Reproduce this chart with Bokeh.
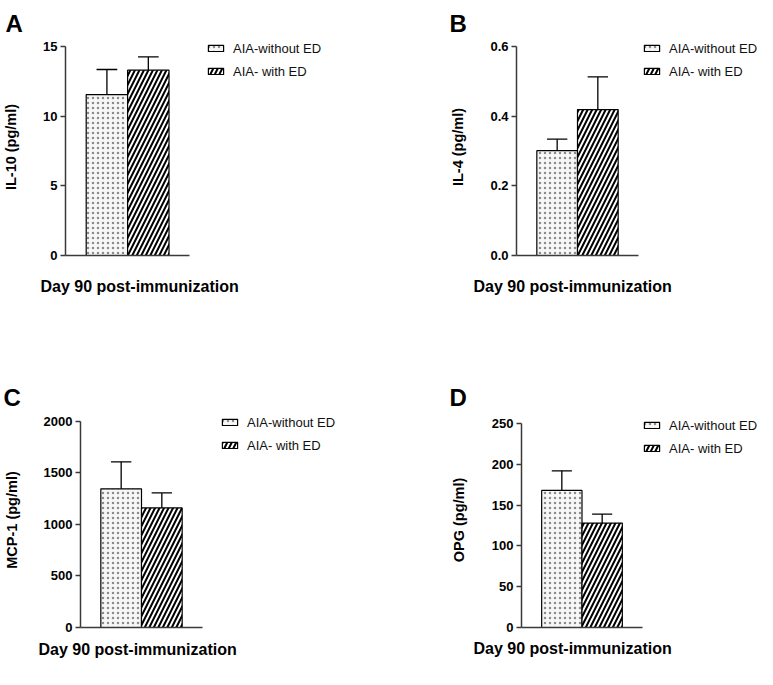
from bokeh.plotting import figure
from bokeh.models import (Range1d, FixedTicker, Legend, LegendItem, Title,
                          ColumnDataSource, NumeralTickFormatter)
from bokeh.layouts import row, column
from bokeh.embed import file_html
from bokeh.resources import INLINE

# ---------------- data ----------------
groups = ["AIA-without ED", "AIA- with ED"]
x_title = "Day 90 post-immunization"

letters = ["A", "B", "C", "D"]
y_titles = ["IL-10 (pg/ml)", "IL-4 (pg/ml)", "MCP-1 (pg/ml)", "OPG (pg/ml)"]

means_A = [11.55, 13.30]
sem_A = [1.80, 0.95]
means_B = [0.301, 0.419]
sem_B = [0.033, 0.094]
means_C = [1346, 1160]
sem_C = [262, 146]
means_D = [168, 128]
sem_D = [24, 11]

ticks_A = [0, 5, 10, 15]
ticks_B = [0.0, 0.2, 0.4, 0.6]
ticks_C = [0, 500, 1000, 1500, 2000]
ticks_D = [0, 50, 100, 150, 200, 250]

FONT = "Liberation Sans"


def make_panel(letter, ytitle, means, sems, ticks, fmt, g):
    W, H = g["W"], g["H"]
    fl, ft, fw, fh, ft_ext = g["fl"], g["ft"], g["fw"], g["fh"], g["ft_ext"]
    # the data area is [0,3] x [ticks[0], ticks[-1]]; the frame is extended
    # to the right and upward so the legend sits inside it
    x_end = 3 * (W - fl) / fw
    span = ticks[-1] - ticks[0]
    y_end = ticks[-1] + span * (ft - ft_ext) / fh
    bottom = H - ft - fh
    p = figure(width=W, height=H, output_backend="svg", toolbar_location=None,
               x_range=Range1d(0, x_end), y_range=Range1d(ticks[0], y_end),
               min_border_left=fl, min_border_top=ft_ext,
               min_border_right=0, min_border_bottom=bottom)
    p.outline_line_color = None
    p.xgrid.visible = False
    p.ygrid.visible = False
    p.background_fill_color = "white"
    p.border_fill_color = "white"

    ax = p.yaxis[0]
    bx = p.xaxis[0]

    # y axis
    ax.bounds = (ticks[0], ticks[-1])
    ax.ticker = FixedTicker(ticks=ticks)
    ax.formatter = NumeralTickFormatter(format=fmt)
    ax.axis_line_color = "#3a3a3a"
    ax.axis_line_width = 1.5
    ax.major_tick_line_color = "#3a3a3a"
    ax.major_tick_line_width = 1.5
    ax.major_tick_in = 0
    ax.major_tick_out = 5
    ax.minor_tick_line_color = None
    ax.major_label_standoff = 3
    ax.major_label_text_font = FONT
    ax.major_label_text_font_style = "bold"
    ax.major_label_text_font_size = "13px"
    ax.major_label_text_color = "black"
    ax.axis_label = ytitle
    ax.axis_label_standoff = g["yt"]
    ax.axis_label_text_font = FONT
    ax.axis_label_text_font_style = "bold"
    ax.axis_label_text_font_size = "14.5px"
    ax.axis_label_text_color = "black"

    # x axis (line only, limited to the bar area)
    bx.bounds = (0, 3)
    bx.ticker = FixedTicker(ticks=[])
    bx.axis_line_color = "#3a3a3a"
    bx.axis_line_width = 1.5
    bx.major_tick_line_color = None
    bx.major_tick_out = 0
    bx.major_tick_in = 0
    bx.minor_tick_line_color = None
    bx.minor_tick_out = 0
    bx.major_label_standoff = 0
    bx.major_label_text_font_size = "0px"

    # x title: a left-aligned title below the axis
    p.add_layout(Title(text=x_title, align="left", offset=g["xt"],
                       standoff=g["xt_so"], text_font=FONT,
                       text_font_style="bold", text_font_size="16px",
                       text_color="black"), "below")

    # panel letter
    p.title.text = letter
    p.title.align = "left"
    p.title.offset = g["let"]
    p.title.standoff = 4
    p.title.text_font = FONT
    p.title.text_font_style = "bold"
    p.title.text_font_size = "24px"
    p.title.text_color = "black"

    # bars
    xs = [1, 2]
    src1 = ColumnDataSource(dict(x=[xs[0]], top=[means[0]]))
    src2 = ColumnDataSource(dict(x=[xs[1]], top=[means[1]]))
    r1 = p.vbar(x="x", top="top", bottom=0, width=1.0, source=src1,
                fill_color="#f7f7f7", line_color="black", line_width=1.2,
                hatch_pattern="dot", hatch_color="#808080", hatch_scale=5,
                hatch_weight=1, hatch_alpha=0.9)
    r2 = p.vbar(x="x", top="top", bottom=0, width=1.0, source=src2,
                fill_color="white", line_color="black", line_width=1.2,
                hatch_pattern="right_diagonal_line", hatch_color="black",
                hatch_scale=9, hatch_weight=2)

    # error bars (upper only)
    ups = [m + s for m, s in zip(means, sems)]
    p.segment(x0=xs, y0=means, x1=xs, y1=ups, line_color="black", line_width=1.3)
    p.segment(x0=[x - 0.25 for x in xs], y0=ups, x1=[x + 0.25 for x in xs], y1=ups,
              line_color="black", line_width=1.3)

    # legend (inside the extended frame, right of the bars)
    leg = Legend(items=[LegendItem(label=groups[0], renderers=[r1]),
                        LegendItem(label=groups[1], renderers=[r2])],
                 location=g["leg"], padding=0, margin=0, spacing=7,
                 glyph_width=19, glyph_height=8, label_height=16,
                 label_standoff=8, label_text_font=FONT,
                 label_text_font_size="13px", label_text_color="#111111",
                 border_line_color=None, background_fill_alpha=0)
    p.add_layout(leg)
    return p


geo_A = dict(W=387, H=370, fl=63, ft=46, fw=125, fh=209, ft_ext=38,
             leg=(141, 176), let=-60, yt=21, xt=-25, xt_so=41)
geo_B = dict(W=370, H=370, fl=129, ft=46, fw=122, fh=209, ft_ext=38,
             leg=(126, 176), let=-67, yt=21, xt=-43, xt_so=41)
geo_C = dict(W=387, H=299, fl=80, ft=49, fw=122, fh=208, ft_ext=40,
             leg=(140, 174), let=-77, yt=21, xt=-42, xt_so=22)
geo_D = dict(W=370, H=299, fl=134, ft=53, fw=121, fh=205, ft_ext=42,
             leg=(121, 171), let=-72, yt=22, xt=-48, xt_so=21)

pA = make_panel(letters[0], y_titles[0], means_A, sem_A, ticks_A, "0", geo_A)
pB = make_panel(letters[1], y_titles[1], means_B, sem_B, ticks_B, "0.0", geo_B)
pC = make_panel(letters[2], y_titles[2], means_C, sem_C, ticks_C, "0", geo_C)
pD = make_panel(letters[3], y_titles[3], means_D, sem_D, ticks_D, "0", geo_D)

layout = column(row(pA, pB, spacing=0), row(pC, pD, spacing=0), spacing=0)

open("out.html", "w").write(file_html(layout, INLINE))
